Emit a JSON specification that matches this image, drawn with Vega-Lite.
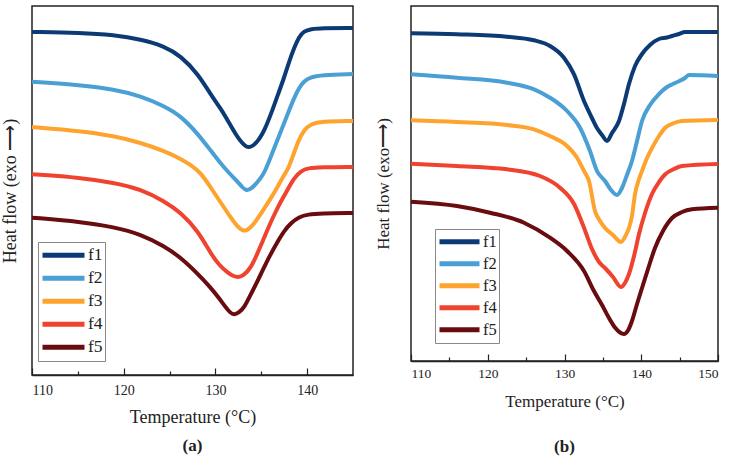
{
  "$schema": "https://vega.github.io/schema/vega-lite/v6.json",
  "padding": {"left": 0, "top": 5, "right": 0, "bottom": 0},
  "spacing": 11,
  "background": "white",
  "datasets": {
    "a": [
      {"s":"f1","T":110,"H":343},{"s":"f1","T":115.34,"H":342.3},{"s":"f1","T":118.94,"H":340},{"s":"f1","T":121.89,"H":335.7},{"s":"f1","T":124.39,"H":329},{"s":"f1","T":126.25,"H":319},{"s":"f1","T":128.1,"H":301},{"s":"f1","T":129.52,"H":280},{"s":"f1","T":130.61,"H":266},{"s":"f1","T":131.37,"H":254},{"s":"f1","T":132.24,"H":240},{"s":"f1","T":132.9,"H":232},{"s":"f1","T":133.33,"H":228.5},{"s":"f1","T":133.66,"H":227.5},{"s":"f1","T":134.1,"H":229},{"s":"f1","T":134.75,"H":235},{"s":"f1","T":135.41,"H":246},{"s":"f1","T":136.06,"H":261},{"s":"f1","T":136.72,"H":278},{"s":"f1","T":137.48,"H":297},{"s":"f1","T":138.02,"H":313},{"s":"f1","T":138.57,"H":327},{"s":"f1","T":139.11,"H":338},{"s":"f1","T":139.66,"H":344},{"s":"f1","T":140.42,"H":346},{"s":"f1","T":141.51,"H":347},{"s":"f1","T":145,"H":347},
      {"s":"f2","T":110,"H":293.3},{"s":"f2","T":115.34,"H":290},{"s":"f2","T":118.94,"H":285.7},{"s":"f2","T":121.89,"H":279},{"s":"f2","T":124.39,"H":269},{"s":"f2","T":126.25,"H":259},{"s":"f2","T":128.1,"H":241},{"s":"f2","T":129.52,"H":224},{"s":"f2","T":130.61,"H":211},{"s":"f2","T":131.48,"H":202},{"s":"f2","T":132.46,"H":193},{"s":"f2","T":132.9,"H":188},{"s":"f2","T":133.33,"H":184.5},{"s":"f2","T":133.77,"H":185.5},{"s":"f2","T":134.21,"H":189},{"s":"f2","T":134.97,"H":197},{"s":"f2","T":135.41,"H":204},{"s":"f2","T":135.85,"H":214},{"s":"f2","T":136.5,"H":229},{"s":"f2","T":137.15,"H":244},{"s":"f2","T":137.92,"H":262},{"s":"f2","T":138.57,"H":277},{"s":"f2","T":139.11,"H":287},{"s":"f2","T":139.66,"H":294},{"s":"f2","T":140.42,"H":298},{"s":"f2","T":141.51,"H":300},{"s":"f2","T":145,"H":301},
      {"s":"f3","T":110,"H":248},{"s":"f3","T":115.34,"H":244},{"s":"f3","T":118.94,"H":239},{"s":"f3","T":121.89,"H":232.3},{"s":"f3","T":124.39,"H":224},{"s":"f3","T":126.25,"H":216},{"s":"f3","T":127.34,"H":210},{"s":"f3","T":128.43,"H":202},{"s":"f3","T":129.52,"H":187},{"s":"f3","T":130.61,"H":172},{"s":"f3","T":131.7,"H":157},{"s":"f3","T":132.35,"H":149},{"s":"f3","T":133.01,"H":143.5},{"s":"f3","T":133.55,"H":145},{"s":"f3","T":134.21,"H":151},{"s":"f3","T":135.08,"H":163},{"s":"f3","T":136.06,"H":177},{"s":"f3","T":136.83,"H":189},{"s":"f3","T":137.48,"H":200},{"s":"f3","T":137.92,"H":206},{"s":"f3","T":138.46,"H":219},{"s":"f3","T":139.01,"H":234},{"s":"f3","T":139.66,"H":245},{"s":"f3","T":140.42,"H":251},{"s":"f3","T":141.51,"H":253.5},{"s":"f3","T":145,"H":254},
      {"s":"f4","T":110,"H":200.7},{"s":"f4","T":115.34,"H":197.3},{"s":"f4","T":118.94,"H":192.3},{"s":"f4","T":121.89,"H":185.7},{"s":"f4","T":124.39,"H":174},{"s":"f4","T":126.25,"H":162.3},{"s":"f4","T":128.1,"H":144},{"s":"f4","T":129.52,"H":121},{"s":"f4","T":130.39,"H":110},{"s":"f4","T":131.37,"H":102},{"s":"f4","T":131.92,"H":99},{"s":"f4","T":132.46,"H":97.5},{"s":"f4","T":133.01,"H":99},{"s":"f4","T":133.88,"H":107},{"s":"f4","T":134.75,"H":125},{"s":"f4","T":135.74,"H":147},{"s":"f4","T":136.5,"H":162},{"s":"f4","T":137.15,"H":174},{"s":"f4","T":137.92,"H":186},{"s":"f4","T":138.57,"H":197},{"s":"f4","T":139.33,"H":204},{"s":"f4","T":140.1,"H":207},{"s":"f4","T":141.51,"H":207.7},{"s":"f4","T":145,"H":208},
      {"s":"f5","T":110,"H":157.3},{"s":"f5","T":115.34,"H":153.3},{"s":"f5","T":118.94,"H":148},{"s":"f5","T":121.89,"H":140.7},{"s":"f5","T":124.39,"H":129},{"s":"f5","T":126.25,"H":117.3},{"s":"f5","T":128.1,"H":101},{"s":"f5","T":129.52,"H":87},{"s":"f5","T":130.39,"H":77},{"s":"f5","T":131.15,"H":67.3},{"s":"f5","T":131.59,"H":62.5},{"s":"f5","T":132.03,"H":60},{"s":"f5","T":132.57,"H":62.5},{"s":"f5","T":133.12,"H":67},{"s":"f5","T":133.88,"H":81},{"s":"f5","T":134.97,"H":101},{"s":"f5","T":135.84,"H":118},{"s":"f5","T":136.82,"H":134},{"s":"f5","T":137.48,"H":144},{"s":"f5","T":138.24,"H":152},{"s":"f5","T":139.11,"H":158},{"s":"f5","T":140.1,"H":160.7},{"s":"f5","T":141.51,"H":161.5},{"s":"f5","T":145,"H":162}
    ],
    "b": [
      {"s":"f1","T":110,"H":327.7},{"s":"f1","T":115.99,"H":326.7},{"s":"f1","T":122.51,"H":324.3},{"s":"f1","T":126.03,"H":320.7},{"s":"f1","T":128.11,"H":315},{"s":"f1","T":129.93,"H":303.3},{"s":"f1","T":131.24,"H":286.7},{"s":"f1","T":132.54,"H":260},{"s":"f1","T":133.58,"H":243},{"s":"f1","T":134.23,"H":233},{"s":"f1","T":134.89,"H":226},{"s":"f1","T":135.54,"H":220},{"s":"f1","T":136.19,"H":228},{"s":"f1","T":137.1,"H":240},{"s":"f1","T":137.75,"H":257},{"s":"f1","T":138.4,"H":277},{"s":"f1","T":139.19,"H":295},{"s":"f1","T":140.1,"H":307},{"s":"f1","T":141.14,"H":316},{"s":"f1","T":142.31,"H":322},{"s":"f1","T":143.36,"H":323.5},{"s":"f1","T":144.01,"H":325},{"s":"f1","T":144.92,"H":327},{"s":"f1","T":145.7,"H":329},{"s":"f1","T":150,"H":329},
      {"s":"f2","T":110,"H":286.7},{"s":"f2","T":115.99,"H":283.3},{"s":"f2","T":122.51,"H":278.3},{"s":"f2","T":126.03,"H":271.7},{"s":"f2","T":128.11,"H":263.3},{"s":"f2","T":130.33,"H":250},{"s":"f2","T":132.02,"H":233.3},{"s":"f2","T":133.32,"H":210},{"s":"f2","T":134.23,"H":190},{"s":"f2","T":135.28,"H":180},{"s":"f2","T":136.06,"H":171},{"s":"f2","T":136.84,"H":166},{"s":"f2","T":137.49,"H":173},{"s":"f2","T":138.14,"H":186},{"s":"f2","T":138.79,"H":200},{"s":"f2","T":139.45,"H":220},{"s":"f2","T":140.1,"H":240},{"s":"f2","T":141.14,"H":256},{"s":"f2","T":142.31,"H":267},{"s":"f2","T":143.36,"H":274},{"s":"f2","T":144.4,"H":278},{"s":"f2","T":145.7,"H":283},{"s":"f2","T":146.22,"H":286},{"s":"f2","T":150,"H":285},
      {"s":"f3","T":110,"H":240.7},{"s":"f3","T":115.99,"H":239},{"s":"f3","T":122.51,"H":236},{"s":"f3","T":126.03,"H":231.7},{"s":"f3","T":128.11,"H":225},{"s":"f3","T":130.33,"H":215},{"s":"f3","T":131.63,"H":203.3},{"s":"f3","T":132.54,"H":190},{"s":"f3","T":133.19,"H":180},{"s":"f3","T":133.97,"H":150},{"s":"f3","T":134.63,"H":140},{"s":"f3","T":135.28,"H":133},{"s":"f3","T":136.32,"H":126},{"s":"f3","T":137.36,"H":119},{"s":"f3","T":138.01,"H":126},{"s":"f3","T":138.4,"H":133},{"s":"f3","T":138.79,"H":145},{"s":"f3","T":139.19,"H":167},{"s":"f3","T":139.71,"H":182},{"s":"f3","T":140.1,"H":190},{"s":"f3","T":140.75,"H":203},{"s":"f3","T":141.4,"H":213},{"s":"f3","T":142.31,"H":225},{"s":"f3","T":143.09,"H":233},{"s":"f3","T":144.27,"H":238},{"s":"f3","T":145.31,"H":240},{"s":"f3","T":150,"H":241},
      {"s":"f4","T":110,"H":197.3},{"s":"f4","T":115.99,"H":195},{"s":"f4","T":122.51,"H":191.7},{"s":"f4","T":126.81,"H":185},{"s":"f4","T":129.41,"H":173.3},{"s":"f4","T":131.24,"H":157},{"s":"f4","T":132.54,"H":133.3},{"s":"f4","T":133.58,"H":112},{"s":"f4","T":134.5,"H":99},{"s":"f4","T":135.28,"H":93},{"s":"f4","T":136.32,"H":84},{"s":"f4","T":137.36,"H":74},{"s":"f4","T":137.88,"H":78},{"s":"f4","T":138.4,"H":87},{"s":"f4","T":139.06,"H":105},{"s":"f4","T":139.71,"H":127},{"s":"f4","T":140.49,"H":148},{"s":"f4","T":141.4,"H":167},{"s":"f4","T":142.31,"H":179},{"s":"f4","T":143.09,"H":186.5},{"s":"f4","T":144.27,"H":192},{"s":"f4","T":145.31,"H":195},{"s":"f4","T":150,"H":197},
      {"s":"f5","T":110,"H":159.3},{"s":"f5","T":115.99,"H":155},{"s":"f5","T":120.29,"H":148.3},{"s":"f5","T":124.72,"H":138.3},{"s":"f5","T":128.11,"H":123.3},{"s":"f5","T":130.33,"H":110},{"s":"f5","T":132.54,"H":90},{"s":"f5","T":133.84,"H":70},{"s":"f5","T":134.89,"H":56},{"s":"f5","T":135.8,"H":43},{"s":"f5","T":136.58,"H":33.5},{"s":"f5","T":137.23,"H":28.5},{"s":"f5","T":137.75,"H":27},{"s":"f5","T":138.27,"H":30.5},{"s":"f5","T":138.79,"H":40},{"s":"f5","T":139.45,"H":57},{"s":"f5","T":140.1,"H":73},{"s":"f5","T":140.88,"H":92},{"s":"f5","T":141.79,"H":113},{"s":"f5","T":142.83,"H":130},{"s":"f5","T":144.01,"H":143},{"s":"f5","T":145.31,"H":149},{"s":"f5","T":146.61,"H":151.7},{"s":"f5","T":150,"H":153.3}
    ]
  },
  "resolve": {"scale": {"color": "independent", "x": "independent", "y": "independent"}, "legend": {"color": "independent"}},
  "hconcat": [
    {
      "width": 321,
      "height": 369,
      "data": {"name": "a"},
      "title": {"text": "(a)", "orient": "bottom", "fontSize": 17, "font": "Liberation Serif", "fontWeight": "bold", "color": "#222", "offset": 12},
      "mark": {"type": "line", "strokeWidth": 4, "interpolate": "basis"},
      "encoding": {
        "x": {"field": "T", "type": "quantitative", "scale": {"domain": [110, 145], "nice": false, "zero": false},
          "axis": {"title": "Temperature (°C)", "titleFontSize": 18, "labelFontSize": 14, "values": [110, 115, 120, 125, 130, 135, 140],
            "labelExpr": "datum.value % 10 == 0 ? datum.label : ''",
            "tickSize": {"condition": {"test": "datum.value % 10 == 0", "value": -7}, "value": -4},
            "labelPadding": 15, "titlePadding": 11, "tickColor": "#222", "domainColor": "#222", "domainWidth": 1.5, "tickWidth": 1.2}},
        "y": {"field": "H", "type": "quantitative", "scale": {"domain": [0, 369], "nice": false, "zero": false},
          "axis": {"title": "Heat flow (exo ⟶)", "titleFontSize": 18, "labels": false, "ticks": false, "domain": false, "titlePadding": 13}},
        "color": {"field": "s", "type": "nominal",
          "scale": {"domain": ["f1", "f2", "f3", "f4", "f5"], "range": ["#0c3a74", "#4a9fd5", "#fea32d", "#ef4330", "#690c10"]},
          "legend": {"orient": "none", "legendX": 6, "legendY": 236, "title": null, "symbolType": "stroke", "symbolStrokeWidth": 5, "symbolSize": 1764,
            "labelFontSize": 17.5, "labelFont": "Liberation Serif", "labelColor": "#222", "strokeColor": "#888", "padding": 2, "labelOffset": 1, "rowPadding": 0, "clipHeight": 22.3}}
      }
    },
    {
      "width": 307,
      "height": 355,
      "data": {"name": "b"},
      "title": {"text": "(b)", "orient": "bottom", "fontSize": 17, "font": "Liberation Serif", "fontWeight": "bold", "color": "#222", "offset": 29},
      "mark": {"type": "line", "strokeWidth": 4, "interpolate": "monotone"},
      "encoding": {
        "x": {"field": "T", "type": "quantitative", "scale": {"domain": [110, 150], "nice": false, "zero": false},
          "axis": {"title": "Temperature (°C)", "titleFontSize": 17, "labelFontSize": 13.5, "values": [110, 115, 120, 125, 130, 135, 140, 145, 150],
            "labelExpr": "datum.value % 10 == 0 ? datum.label : ''",
            "tickSize": {"condition": {"test": "datum.value % 10 == 0", "value": -7}, "value": -4},
            "labelPadding": 12, "titlePadding": 14, "tickColor": "#222", "domainColor": "#222", "domainWidth": 1.5, "tickWidth": 1.2}},
        "y": {"field": "H", "type": "quantitative", "scale": {"domain": [0, 355], "nice": false, "zero": false},
          "axis": {"title": "Heat flow (exo⟶)", "titleFontSize": 17, "labels": false, "ticks": false, "domain": false, "titlePadding": 19}},
        "color": {"field": "s", "type": "nominal",
          "scale": {"domain": ["f1", "f2", "f3", "f4", "f5"], "range": ["#0c3a74", "#4a9fd5", "#fea32d", "#ef4330", "#690c10"]},
          "legend": {"orient": "none", "legendX": 24, "legendY": 223, "title": null, "symbolType": "stroke", "symbolStrokeWidth": 5, "symbolSize": 1600,
            "labelFontSize": 16.5, "labelFont": "Liberation Serif", "labelColor": "#222", "strokeColor": "#888", "padding": 2, "labelOffset": 1, "rowPadding": 0, "clipHeight": 21.7}}
      }
    }
  ],
  "config": {
    "view": {"stroke": "#222", "strokeWidth": 1.5},
    "font": "Liberation Serif",
    "axis": {"labelFont": "Liberation Serif", "titleFont": "Liberation Serif", "titleFontWeight": "normal", "labelColor": "#222", "titleColor": "#222", "grid": false}
  }
}
